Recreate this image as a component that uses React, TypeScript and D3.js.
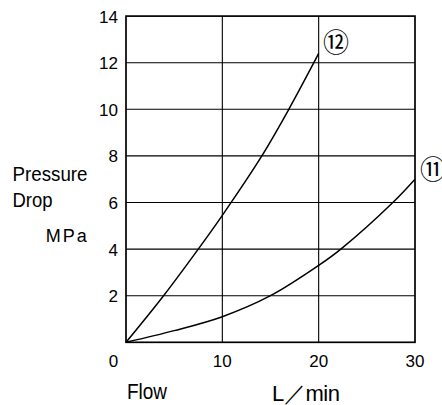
import React from "react";
import * as d3 from "d3";

const flow12 = [0, 3.9, 7.5, 10, 14.1, 16.9, 19.5, 20];
const drop12 = [0, 2, 4, 5.45, 8, 10, 12, 12.4];
const flow11 = [0, 5, 10, 15, 20, 22.3, 27.7, 30];
const drop11 = [0, 0.5, 1.1, 2, 3.3, 4, 6, 7];
const xTicks = [0, 10, 20, 30];
const yTicks = [2, 4, 6, 8, 10, 12, 14];
const seriesLabels = ["⑫", "⑪"];

const W = 442, H = 405;
const left = 126, right = 415, top = 16.1, bottom = 342.3;

export default function App() {
  const x = d3.scaleLinear().domain([0, 30]).range([left, right]);
  const y = d3.scaleLinear().domain([0, 14]).range([bottom, top]);
  const line = d3
    .line<[number, number]>()
    .x((d) => x(d[0]))
    .y((d) => y(d[1]))
    .curve(d3.curveCatmullRom.alpha(0.5));
  const pts12 = flow12.map((f, i) => [f, drop12[i]] as [number, number]);
  const pts11 = flow11.map((f, i) => [f, drop11[i]] as [number, number]);
  const font = "'Liberation Sans', Arial, sans-serif";

  return (
    <svg
      width={W}
      height={H}
      style={{ position: "absolute", left: 0, top: 0, background: "#fff" }}
      fontFamily={font}
    >
      <rect width={W} height={H} fill="#fff" />
      {yTicks.slice(0, -1).map((t) => (
        <line key={"h" + t} x1={left} x2={right} y1={y(t)} y2={y(t)} stroke="#000" strokeWidth={1.1} />
      ))}
      {[10, 20].map((t) => (
        <line key={"v" + t} x1={x(t)} x2={x(t)} y1={top} y2={bottom} stroke="#000" strokeWidth={1.1} />
      ))}
      <rect x={left} y={top} width={right - left} height={bottom - top} fill="none" stroke="#000" strokeWidth={1.7} />
      <path d={line(pts12) || ""} fill="none" stroke="#000" strokeWidth={1.5} />
      <path d={line(pts11) || ""} fill="none" stroke="#000" strokeWidth={1.5} />
      {yTicks.map((t) => (
        <text key={"yt" + t} x={118} y={y(t) + 6.5} textAnchor="end" fontSize={17} textLength={t >= 10 ? 19 : 9.5} lengthAdjust="spacingAndGlyphs">
          {t}
        </text>
      ))}
      {xTicks.map((t) => (
        <text key={"xt" + t} x={t === 0 ? x(t) - 12.5 : x(t)} y={366.7} textAnchor="middle" fontSize={17}>
          {t}
        </text>
      ))}
      <text x={336} y={52} textAnchor="middle" fontSize={26} fontFamily="'Noto Sans CJK JP', sans-serif">
        {seriesLabels[0]}
      </text>
      <text x={433} y={179} textAnchor="middle" fontSize={26} fontFamily="'Noto Sans CJK JP', sans-serif">
        {seriesLabels[1]}
      </text>
      <text x={12.5} y={180.7} fontSize={20} textLength={75} lengthAdjust="spacingAndGlyphs">
        Pressure
      </text>
      <text x={12.5} y={206.7} fontSize={20} textLength={40} lengthAdjust="spacingAndGlyphs">
        Drop
      </text>
      <text x={45.7} y={241.7} fontSize={18} letterSpacing={2}>
        MPa
      </text>
      <text x={127} y={399.3} fontSize={22} textLength={40} lengthAdjust="spacingAndGlyphs">
        Flow
      </text>
      <text x={272} y={401} fontSize={22} textLength={68} lengthAdjust="spacing">
        L／min
      </text>
    </svg>
  );
}
